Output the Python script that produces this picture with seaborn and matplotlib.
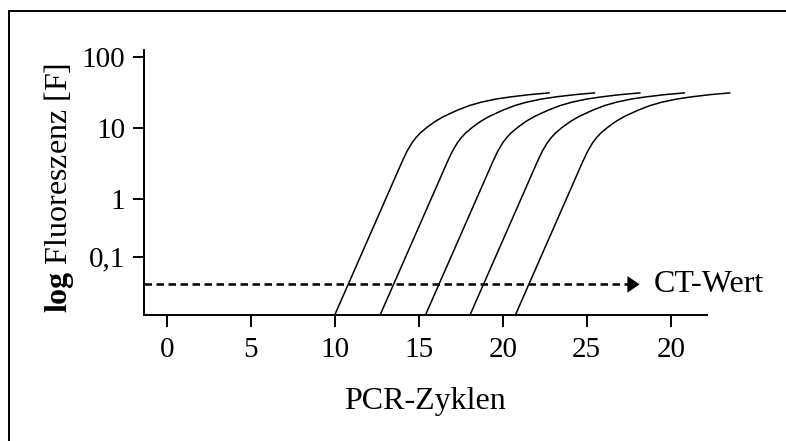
import matplotlib
matplotlib.use("Agg")
import matplotlib.pyplot as plt
from matplotlib.patches import Rectangle
from matplotlib.ticker import NullLocator, FixedLocator, FixedFormatter
import pandas as pd
import seaborn as sns

# --- data -----------------------------------------------------------------
# PCR cycle positions of the five amplification curves
cycles_run1 = [10.0, 14.0, 14.3, 14.6, 14.85, 15.1, 15.5, 16.0, 16.5, 17.3, 18.0, 18.7, 19.6, 20.5, 21.6, 22.77]
cycles_run2 = [12.7, 16.7, 17.0, 17.3, 17.55, 17.8, 18.2, 18.7, 19.2, 20.0, 20.7, 21.4, 22.3, 23.2, 24.3, 25.47]
cycles_run3 = [15.4, 19.4, 19.7, 20.0, 20.25, 20.5, 20.9, 21.4, 21.9, 22.7, 23.4, 24.1, 25.0, 25.9, 27.0, 28.17]
cycles_run4 = [18.05, 22.05, 22.35, 22.65, 22.9, 23.15, 23.55, 24.05, 24.55, 25.35, 26.05, 26.75, 27.65, 28.55, 29.65, 30.82]
cycles_run5 = [20.75, 24.75, 25.05, 25.35, 25.6, 25.85, 26.25, 26.75, 27.25, 28.05, 28.75, 29.45, 30.35, 31.25, 32.35, 33.52]
# fluorescence reached at those cycle positions
fluorescence = [0.0234, 3.31, 4.68, 6.17, 7.37, 8.51, 10.2, 12.4, 14.5, 17.7, 20.5,
                22.9, 25.4, 27.3, 29.3, 31.0]

threshold = 0.0632          # CT threshold line
threshold_end = 28.14       # cycle where the arrow ends

x_ticks = [0, 5, 10, 15, 20, 25, 30]
x_ticklabels = ["0", "5", "10", "15", "20", "25", "20"]
y_ticks = [0.1545, 1, 10, 100]
y_ticklabels = ["0,1", "1", "10", "100"]

runs = [cycles_run1, cycles_run2, cycles_run3, cycles_run4, cycles_run5]
df = pd.concat(
    [pd.DataFrame({"cycle": c, "fluorescence": fluorescence, "run": i})
     for i, c in enumerate(runs)],
    ignore_index=True,
)

# --- style ----------------------------------------------------------------
sns.set_style("ticks")
plt.rcParams["font.family"] = ["Liberation Serif", "DejaVu Serif"]
plt.rcParams["mathtext.fontset"] = "custom"
plt.rcParams["mathtext.rm"] = "Liberation Serif"
plt.rcParams["mathtext.bf"] = "Liberation Serif:bold"
plt.rcParams["text.color"] = "black"
plt.rcParams["axes.labelcolor"] = "black"
plt.rcParams["xtick.color"] = "black"
plt.rcParams["ytick.color"] = "black"

fig = plt.figure(figsize=(7.86, 4.41), dpi=100)
ax = fig.add_axes([144 / 786, 126 / 441, 594 / 786, 265 / 441])

sns.lineplot(data=df, x="cycle", y="fluorescence", units="run", estimator=None,
             sort=False, color="black", lw=1.1, ax=ax, legend=False)

ax.set_yscale("log")
ax.set_xlim(-1.35, 34.0)
ax.set_ylim(10 ** -1.630, 10 ** 2.094)

# dashed threshold line with arrow head
ax.plot([-1.35, threshold_end - 0.7], [threshold, threshold], color="black",
        lw=1.8, dashes=(3.0, 1.8), solid_capstyle="butt")
ax.annotate("", xy=(threshold_end, threshold), xytext=(threshold_end - 0.7, threshold),
            arrowprops=dict(arrowstyle="-|>,head_length=0.8,head_width=0.55",
                            mutation_scale=10, color="black", lw=0.5,
                            shrinkA=0, shrinkB=0))
ax.text(29.0, threshold, "CT-Wert", fontsize=23, va="center", ha="left")

# axes, ticks, labels
sns.despine(ax=ax)
ax.spines["bottom"].set_bounds(-1.35, 32.14)
for s in ("left", "bottom"):
    ax.spines[s].set_linewidth(1.4)
    ax.spines[s].set_color("black")

ax.xaxis.set_major_locator(FixedLocator(x_ticks))
ax.xaxis.set_major_formatter(FixedFormatter(x_ticklabels))
ax.yaxis.set_major_locator(FixedLocator(y_ticks))
ax.yaxis.set_major_formatter(FixedFormatter(y_ticklabels))
ax.yaxis.set_minor_locator(NullLocator())
ax.xaxis.set_minor_locator(NullLocator())
ax.tick_params(axis="x", direction="out", length=8.6, width=1.4, pad=7,
               labelsize=21, color="black", labelcolor="black")
ax.tick_params(axis="y", direction="out", length=8, width=1.4, pad=5.5,
               labelsize=21, color="black", labelcolor="black")

ax.set_xlabel("PCR-Zyklen", fontsize=23, va="center", color="black")
ax.xaxis.set_label_coords((425 - 144) / 594, (315 - 402) / 265)
ax.set_ylabel(r"$\mathbf{log}$ Fluoreszenz [F]", fontsize=23, va="center", color="black")
ax.yaxis.set_label_coords((59 - 144) / 594, (315 - 187.5) / 265)

# frame around the figure
fig.patches.append(Rectangle((9 / 786, -0.5), 2.0, (1 - 11 / 441) + 0.5,
                             transform=fig.transFigure, fill=False,
                             lw=1.4, ec="black"))

fig.savefig("out.png", dpi=100)
